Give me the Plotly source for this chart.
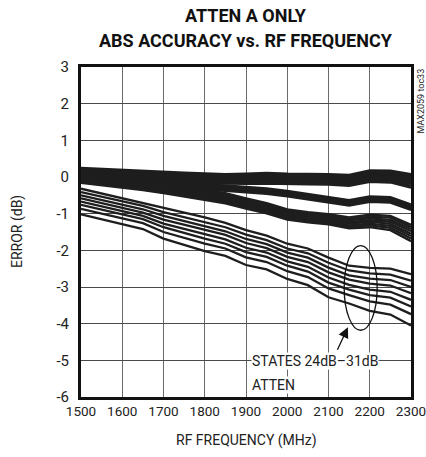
import plotly.graph_objects as go

freq = [1500, 1550, 1600, 1650, 1700, 1750, 1800, 1850, 1900, 1950,
        2000, 2050, 2100, 2150, 2200, 2250, 2300]

# States 0dB..9dB (top bunch)
group_a = [
    [0.25, 0.22, 0.19, 0.17, 0.14, 0.12, 0.10, 0.08, 0.09, 0.11, 0.09, 0.09, 0.08, 0.06, 0.18, 0.17, 0.08],
    [0.22, 0.19, 0.16, 0.14, 0.11, 0.09, 0.07, 0.05, 0.06, 0.08, 0.06, 0.06, 0.05, 0.03, 0.15, 0.14, 0.04],
    [0.19, 0.16, 0.13, 0.11, 0.08, 0.06, 0.04, 0.02, 0.03, 0.05, 0.03, 0.03, 0.02, 0.00, 0.11, 0.10, 0.01],
    [0.16, 0.13, 0.10, 0.08, 0.05, 0.03, 0.01, -0.01, 0.00, 0.02, 0.00, 0.00, -0.01, -0.03, 0.08, 0.07, -0.03],
    [0.13, 0.10, 0.07, 0.05, 0.02, 0.00, -0.02, -0.04, -0.03, -0.01, -0.03, -0.03, -0.04, -0.06, 0.05, 0.04, -0.07],
    [0.10, 0.07, 0.04, 0.02, -0.01, -0.03, -0.05, -0.07, -0.06, -0.04, -0.06, -0.06, -0.07, -0.09, 0.02, 0.01, -0.11],
    [0.07, 0.04, 0.01, -0.01, -0.04, -0.06, -0.08, -0.10, -0.09, -0.07, -0.09, -0.09, -0.10, -0.12, -0.01, -0.03, -0.15],
    [0.04, 0.01, -0.02, -0.04, -0.07, -0.09, -0.11, -0.13, -0.12, -0.10, -0.12, -0.12, -0.13, -0.16, -0.05, -0.07, -0.19],
    [0.01, -0.02, -0.05, -0.07, -0.10, -0.12, -0.14, -0.16, -0.15, -0.14, -0.16, -0.16, -0.17, -0.20, -0.09, -0.11, -0.24],
    [-0.02, -0.05, -0.08, -0.10, -0.13, -0.15, -0.17, -0.19, -0.19, -0.18, -0.20, -0.20, -0.21, -0.24, -0.13, -0.15, -0.29],
]

# States 10dB..15dB
group_b = [
    [0.07, 0.04, 0.00, -0.05, -0.10, -0.15, -0.20, -0.23, -0.26, -0.31, -0.38, -0.46, -0.53, -0.63, -0.53, -0.55, -0.75],
    [0.04, 0.01, -0.03, -0.08, -0.13, -0.18, -0.23, -0.26, -0.29, -0.34, -0.41, -0.49, -0.56, -0.66, -0.56, -0.58, -0.78],
    [0.01, -0.02, -0.06, -0.11, -0.16, -0.21, -0.26, -0.29, -0.32, -0.37, -0.44, -0.52, -0.59, -0.69, -0.59, -0.61, -0.81],
    [-0.02, -0.05, -0.09, -0.14, -0.19, -0.24, -0.29, -0.32, -0.35, -0.40, -0.47, -0.55, -0.62, -0.72, -0.62, -0.64, -0.84],
    [-0.05, -0.08, -0.12, -0.17, -0.22, -0.27, -0.32, -0.35, -0.38, -0.43, -0.50, -0.58, -0.65, -0.75, -0.65, -0.67, -0.87],
    [-0.08, -0.11, -0.15, -0.20, -0.25, -0.30, -0.35, -0.38, -0.41, -0.46, -0.53, -0.61, -0.68, -0.78, -0.68, -0.70, -0.90],
]

# States 16dB..23dB
group_c = [
    [0.12, 0.06, -0.01, -0.08, -0.16, -0.26, -0.36, -0.44, -0.58, -0.71, -0.88, -0.96, -1.01, -1.10, -1.03, -1.06, -1.30],
    [0.08, 0.02, -0.05, -0.12, -0.20, -0.30, -0.40, -0.48, -0.62, -0.75, -0.92, -1.00, -1.05, -1.14, -1.08, -1.11, -1.36],
    [0.04, -0.02, -0.09, -0.16, -0.24, -0.34, -0.44, -0.52, -0.66, -0.79, -0.96, -1.04, -1.09, -1.18, -1.13, -1.17, -1.42],
    [0.00, -0.06, -0.13, -0.20, -0.28, -0.38, -0.48, -0.56, -0.70, -0.83, -1.00, -1.08, -1.13, -1.23, -1.18, -1.22, -1.48],
    [-0.04, -0.10, -0.17, -0.24, -0.32, -0.42, -0.52, -0.60, -0.74, -0.87, -1.04, -1.12, -1.17, -1.27, -1.22, -1.28, -1.55],
    [-0.08, -0.14, -0.21, -0.28, -0.36, -0.46, -0.56, -0.64, -0.78, -0.91, -1.08, -1.16, -1.21, -1.32, -1.27, -1.33, -1.61],
    [-0.12, -0.18, -0.25, -0.32, -0.40, -0.50, -0.60, -0.68, -0.82, -0.95, -1.12, -1.20, -1.25, -1.36, -1.32, -1.39, -1.68],
    [-0.16, -0.22, -0.29, -0.36, -0.44, -0.54, -0.64, -0.72, -0.86, -0.99, -1.16, -1.24, -1.29, -1.40, -1.37, -1.45, -1.75],
]

# States 24dB..31dB
group_d = [
    [-0.32, -0.45, -0.58, -0.70, -0.85, -0.98, -1.10, -1.25, -1.45, -1.60, -1.82, -1.95, -2.20, -2.42, -2.48, -2.50, -2.65],
    [-0.41, -0.54, -0.67, -0.79, -0.96, -1.09, -1.22, -1.37, -1.57, -1.72, -1.95, -2.08, -2.34, -2.55, -2.63, -2.66, -2.83],
    [-0.50, -0.63, -0.76, -0.88, -1.06, -1.20, -1.33, -1.48, -1.69, -1.83, -2.06, -2.20, -2.47, -2.68, -2.77, -2.81, -3.00],
    [-0.58, -0.71, -0.85, -0.97, -1.16, -1.30, -1.44, -1.58, -1.80, -1.94, -2.18, -2.32, -2.60, -2.80, -2.91, -2.96, -3.17],
    [-0.67, -0.80, -0.94, -1.06, -1.27, -1.42, -1.56, -1.70, -1.93, -2.06, -2.30, -2.45, -2.74, -2.94, -3.07, -3.13, -3.35],
    [-0.76, -0.89, -1.03, -1.15, -1.37, -1.53, -1.68, -1.82, -2.05, -2.18, -2.42, -2.58, -2.88, -3.07, -3.22, -3.29, -3.53],
    [-0.87, -1.00, -1.14, -1.26, -1.50, -1.66, -1.82, -1.95, -2.19, -2.32, -2.57, -2.73, -3.04, -3.22, -3.39, -3.48, -3.74],
    [-1.02, -1.15, -1.30, -1.42, -1.68, -1.85, -2.02, -2.15, -2.40, -2.52, -2.78, -2.95, -3.28, -3.45, -3.65, -3.75, -4.05],
]

x_ticks = [1500, 1600, 1700, 1800, 1900, 2000, 2100, 2200, 2300]
x_labels = ["1500", "1600", "1700", "1800", "1900", "2000", "2100", "2200", "2300"]
y_ticks = [-6, -5, -4, -3, -2, -1, 0, 1, 2, 3]
y_labels = ["-6", "-5", "-4", "-3", "-2", "-1", "0", "1", "2", "3"]

FONT = "Roboto, sans-serif"

fig = go.Figure()
for grp in (group_a, group_b, group_c, group_d):
    for ys in grp:
        fig.add_trace(go.Scatter(x=freq, y=ys, mode="lines",
                                 line=dict(color="#1e1e1e", width=2.3),
                                 showlegend=False, hoverinfo="skip"))

# ellipse around states 24-31dB
fig.add_shape(type="circle", xref="x", yref="y", x0=2138, x1=2218, y0=-4.18, y1=-1.87,
              line=dict(color="#111", width=1.3))

fig.add_annotation(x=2147, y=-4.1, ax=2120, ay=-4.75, xref="x", yref="y", axref="x", ayref="y",
                   showarrow=True, arrowhead=2, arrowsize=1.6, arrowwidth=1.3, arrowcolor="#111", text="")

fig.add_annotation(x=1912, y=-5.02, xref="x", yref="y", xanchor="left", yanchor="middle",
                   text="STATES 24dB\u201331dB", showarrow=False, bgcolor="white",
                   font=dict(family=FONT, size=14, color="#222"), borderpad=0)
fig.add_annotation(x=1912, y=-5.68, xref="x", yref="y", xanchor="left", yanchor="middle",
                   text="ATTEN", showarrow=False, bgcolor="white",
                   font=dict(family=FONT, size=14, color="#222"), borderpad=0)

fig.add_annotation(x=0.5, y=1.0, xref="paper", yref="paper", yshift=52, yanchor="middle",
                   text="<b>ATTEN A ONLY</b>", showarrow=False,
                   font=dict(family=FONT, size=18, color="#111"))
fig.add_annotation(x=0.5, y=1.0, xref="paper", yref="paper", yshift=27, yanchor="middle",
                   text="<b>ABS ACCURACY vs. RF FREQUENCY</b>", showarrow=False,
                   font=dict(family=FONT, size=18, color="#111"))

fig.add_annotation(x=1.0, y=1.0, xref="paper", yref="paper", xshift=9, xanchor="center",
                   yanchor="top", text="MAX2059 toc33", textangle=-90, showarrow=False,
                   font=dict(family=FONT, size=9, color="#222"))

fig.add_annotation(x=0.5, y=0.0, xref="paper", yref="paper", yshift=-43, yanchor="middle",
                   text="RF FREQUENCY (MHz)", showarrow=False,
                   font=dict(family=FONT, size=14, color="#222"))
fig.add_annotation(x=0.0, y=0.5, xref="paper", yref="paper", xshift=-64, xanchor="center",
                   text="ERROR (dB)", textangle=-90, showarrow=False,
                   font=dict(family=FONT, size=14, color="#222"))

fig.update_layout(
    width=426, height=457,
    margin=dict(l=81, r=15, t=67, b=60),
    paper_bgcolor="white", plot_bgcolor="white",
    font=dict(family=FONT, size=15, color="#222"),
    xaxis=dict(range=[1500, 2300], tickvals=x_ticks, ticktext=x_labels, ticks="",
               showgrid=True, gridcolor="#6a6a6a", gridwidth=1.2, zeroline=False,
               showline=True, linecolor="#111", linewidth=3, mirror=True,
               automargin=False, tickfont=dict(size=13.5), ticklabeloverflow="allow"),
    yaxis=dict(range=[-6, 3], tickvals=y_ticks, ticktext=y_labels, ticks="",
               showgrid=True, gridcolor="#4a4a4a", gridwidth=1, zeroline=False,
               showline=True, linecolor="#111", linewidth=3, mirror=True,
               automargin=False, tickfont=dict(size=15), ticklabelstandoff=6),
)

fig.write_html("out.html", config={"displayModeBar": False},
               post_script="document.body.style.margin='0';document.body.style.overflow='hidden';")
